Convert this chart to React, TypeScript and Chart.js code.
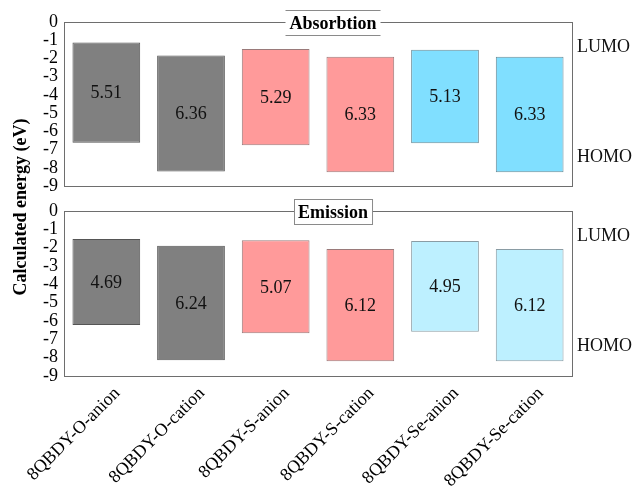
import React, { useEffect, useRef } from "react";
import { Chart, registerables } from "chart.js";

Chart.register(...registerables);

// Molecules on the category axis
const categories = [
  "8QBDY-O-anion",
  "8QBDY-O-cation",
  "8QBDY-S-anion",
  "8QBDY-S-cation",
  "8QBDY-Se-anion",
  "8QBDY-Se-cation",
];

// Absorption: LUMO level (eV) and HOMO–LUMO gap (eV)
const absorptionLumo = [-1.12, -1.84, -1.48, -1.91, -1.52, -1.91];
const absorptionGap = [5.51, 6.36, 5.29, 6.33, 5.13, 6.33];

// Emission: LUMO level (eV) and HOMO–LUMO gap (eV)
const emissionLumo = [-1.53, -1.9, -1.6, -2.07, -1.63, -2.07];
const emissionGap = [4.69, 6.24, 5.07, 6.12, 4.95, 6.12];

const absorptionFill = ["#808080", "#808080", "#ff9a9a", "#ff9a9a", "#80dfff", "#80dfff"];
const absorptionEdge = ["#555555", "#555555", "#9a7a7a", "#9a7a7a", "#6a8a96", "#6a8a96"];
const emissionFill = ["#808080", "#808080", "#ff9a9a", "#ff9a9a", "#bdf0ff", "#bdf0ff"];
const emissionEdge = ["#555555", "#555555", "#9a7a7a", "#9a7a7a", "#8a9ca4", "#8a9ca4"];

const yMin = -9;
const yMax = 0;

const SERIF = "'Liberation Serif', 'Times New Roman', serif";

type Panel = {
  title: string;
  lumo: number[];
  gap: number[];
  fill: string[];
  edge: string[];
  bottom: boolean;
  titleWidthPad: number;
  sideLines: boolean;
};

const panelPlugin = (panel: Panel) => ({
  id: "panelDecor",
  beforeDatasetsDraw(chart: any) {
    const { ctx, chartArea } = chart;
    ctx.save();
    ctx.strokeStyle = "#6e6e6e";
    ctx.lineWidth = 1;
    ctx.strokeRect(
      Math.round(chartArea.left) + 0.5,
      Math.round(chartArea.top) + 0.5,
      Math.round(chartArea.right - chartArea.left),
      Math.round(chartArea.bottom - chartArea.top)
    );
    ctx.restore();
  },
  afterDatasetsDraw(chart: any) {
    const { ctx, chartArea } = chart;
    const meta = chart.getDatasetMeta(0);
    ctx.save();
    // gap value inside each bar
    ctx.fillStyle = "#111";
    ctx.font = `18px ${SERIF}`;
    ctx.textAlign = "center";
    ctx.textBaseline = "middle";
    meta.data.forEach((bar: any, i: number) => {
      const mid = (bar.y + bar.base) / 2;
      ctx.fillText(panel.gap[i].toFixed(2), bar.x, mid + 1);
    });

    // orbital labels on the right
    const ys = chart.scales.y;
    ctx.textAlign = "left";
    ctx.font = `18px ${SERIF}`;
    ctx.fillText("LUMO", chartArea.right + 5, ys.getPixelForValue(-1.4));
    ctx.fillText("HOMO", chartArea.right + 5, ys.getPixelForValue(-7.4));

    // boxed panel title on the top border
    ctx.font = `bold 18px ${SERIF}`;
    const tw = ctx.measureText(panel.title).width;
    const bw = tw + panel.titleWidthPad;
    const bh = 25;
    const cx = 333;
    const top = Math.round(chartArea.top - bh / 2) + 0.5;
    const left = Math.round(cx - bw / 2) + 0.5;
    ctx.fillStyle = "#ffffff";
    ctx.fillRect(left, top, bw, bh);
    ctx.strokeStyle = "#8a8a8a";
    ctx.lineWidth = 1;
    if (panel.sideLines) {
      ctx.strokeRect(left, top, bw, bh);
    } else {
      ctx.beginPath();
      ctx.moveTo(left, top);
      ctx.lineTo(left + bw, top);
      ctx.moveTo(left, top + bh);
      ctx.lineTo(left + bw, top + bh);
      ctx.stroke();
    }
    ctx.fillStyle = "#000";
    ctx.textAlign = "center";
    ctx.textBaseline = "middle";
    ctx.fillText(panel.title, cx, top + bh / 2 + 1);

    if (panel.bottom) {
      // shared vertical axis title
      ctx.save();
      ctx.translate(21, 207);
      ctx.rotate(-Math.PI / 2);
      ctx.font = `bold 18px ${SERIF}`;
      ctx.fillText("Calculated energy (eV)", 0, 0);
      ctx.restore();
    }
    ctx.restore();
  },
});

function makeChart(canvas: HTMLCanvasElement, panel: Panel) {
  const floating = panel.lumo.map((l, i) => [l - panel.gap[i], l]);
  return new Chart(canvas, {
    type: "bar",
    data: {
      labels: categories,
      datasets: [
        {
          data: floating as any,
          backgroundColor: panel.fill,
          borderColor: panel.edge,
          borderWidth: 1,
          borderSkipped: false,
          barPercentage: 0.8,
          categoryPercentage: 1,
        },
      ],
    },
    options: {
      responsive: false,
      animation: false,
      events: [],
      layout: {
        padding: panel.bottom
          ? { left: 0, right: 64, top: 211, bottom: 0 }
          : { left: 0, right: 64, top: 22, bottom: 310 },
      },
      plugins: {
        legend: { display: false },
        tooltip: { enabled: false },
        title: { display: false },
      },
      scales: {
        x: {
          display: panel.bottom,
          grid: { display: false, drawTicks: false },
          border: { display: false },
          ticks: {
            color: "#000",
            font: { family: SERIF, size: 18 },
            minRotation: 45,
            maxRotation: 45,
            autoSkip: false,
            padding: 7,
            labelOffset: 11,
          },
          afterFit(scale: any) {
            scale.height = panel.bottom ? 120 : 0;
          },
        },
        y: {
          min: yMin,
          max: yMax,
          grid: { display: false, drawTicks: false },
          border: { display: false },
          ticks: {
            stepSize: 1,
            autoSkip: false,
            color: "#000",
            padding: 6,
            font: { family: SERIF, size: 18 },
          },
          afterFit(scale: any) {
            scale.width = 64;
          },
        },
      },
    },
    plugins: [panelPlugin(panel)],
  });
}

export default function App() {
  const topRef = useRef<HTMLCanvasElement | null>(null);
  const bottomRef = useRef<HTMLCanvasElement | null>(null);

  useEffect(() => {
    if (!topRef.current || !bottomRef.current) return;
    const bottomChart = makeChart(bottomRef.current, {
      title: "Emission",
      lumo: emissionLumo,
      gap: emissionGap,
      fill: emissionFill,
      edge: emissionEdge,
      bottom: true,
      titleWidthPad: 8,
      sideLines: true,
    });
    const topChart = makeChart(topRef.current, {
      title: "Absorbtion",
      lumo: absorptionLumo,
      gap: absorptionGap,
      fill: absorptionFill,
      edge: absorptionEdge,
      bottom: false,
      titleWidthPad: 8,
      sideLines: false,
    });
    return () => {
      topChart.destroy();
      bottomChart.destroy();
    };
  }, []);

  const canvasStyle: React.CSSProperties = {
    position: "absolute",
    left: 0,
    top: 0,
    width: 636,
    height: 496,
  };

  return (
    <div style={{ position: "absolute", left: 0, top: 0, width: 636, height: 496, background: "#fff" }}>
      <canvas ref={bottomRef} width={636} height={496} style={canvasStyle} />
      <canvas ref={topRef} width={636} height={496} style={canvasStyle} />
    </div>
  );
}
